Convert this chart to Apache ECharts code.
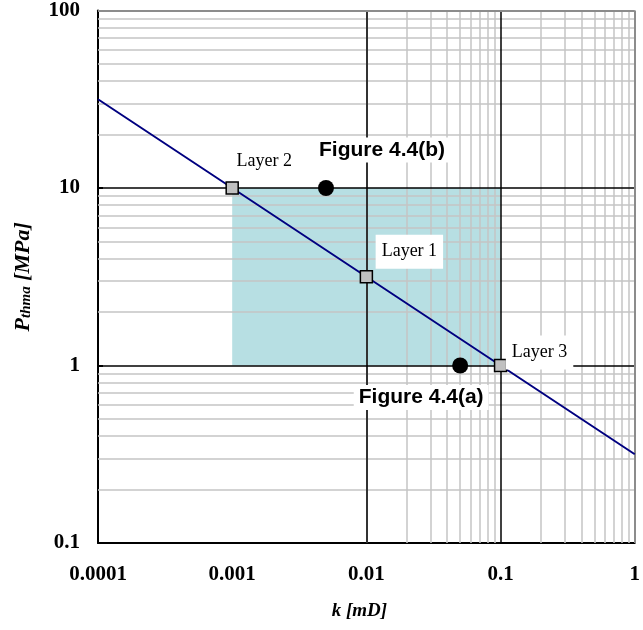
<!DOCTYPE html>
<html>
<head>
<meta charset="utf-8">
<script src="https://cdn.jsdelivr.net/npm/echarts@6/dist/echarts.min.js"></script>
<style>
html,body{margin:0;padding:0;background:#fff;}
#chart{width:643px;height:630px;}
</style>
</head>
<body>
<div id="chart"></div>
<script>
// ---- data ----
const xTicks = [0.0001, 0.001, 0.01, 0.1, 1];
const xTickLabels = ['0.0001', '0.001', '0.01', '0.1', '1'];
const yTicks = [0.1, 1, 10, 100];
const yTickLabels = ['0.1', '1', '10', '100'];

const lineK = [0.0001, 0.001, 0.01, 0.1, 1];
const lineP = [31.62, 10, 3.162, 1, 0.3162];

const layerNames = ['Layer 2', 'Layer 1', 'Layer 3'];
const layerK = [0.001, 0.01, 0.1];
const layerP = [10, 3.162, 1];

const figNames = ['Figure 4.4(b)', 'Figure 4.4(a)'];
const figK = [0.005, 0.05];
const figP = [10, 1];

const regionK = [0.001, 0.1];
const regionP = [1, 10];

const minorMult = [2, 3, 4, 5, 6, 7, 8, 9];

// ---- layout constants (label offsets in px) ----
const layerOffsets = [[32, -27], [43, -25], [39, -13]];
const figOffsets = [[56, -38], [-39, 32]];

// ---- grid lines built from tick decades ----
function minorValues(ticks) {
  const out = [];
  for (let i = 0; i < ticks.length - 1; i++) {
    minorMult.forEach(m => out.push(+(ticks[i] * m).toPrecision(6)));
  }
  return out;
}
const xMinor = minorValues(xTicks);
const yMinor = minorValues(yTicks);
const xMajorInner = xTicks.slice(1, -1);
const yMajorInner = yTicks.slice(1, -1);

function labelFor(v, ticks, labels) {
  let best = 0, bd = Infinity;
  ticks.forEach((t, i) => {
    const d = Math.abs(Math.log10(t) - Math.log10(v));
    if (d < bd) { bd = d; best = i; }
  });
  return bd < 0.01 ? labels[best] : '';
}

const serif = "'Liberation Serif','Times New Roman',serif";
const sans = "'Liberation Sans',Arial,sans-serif";
const minorStyle = {color: '#c4c4c4', width: 1.5, type: 'solid'};
const majorStyle = {color: '#000', width: 1.5, type: 'solid'};
const borderStyle = {color: '#8c8c8c', width: 2, type: 'solid'};

const chart = echarts.init(document.getElementById('chart'), null, {renderer: 'canvas'});

const option = {
  animation: false,
  backgroundColor: '#fff',
  grid: {left: 98, right: 5, top: 10, bottom: 87, containLabel: false},
  xAxis: {
    type: 'log', logBase: 10,
    min: xTicks[0], max: xTicks[xTicks.length - 1],
    splitNumber: 4,
    name: 'k [mD]',
    nameLocation: 'middle',
    nameGap: 59,
    nameTextStyle: {fontFamily: serif, fontSize: 19, fontWeight: 'bold', fontStyle: 'italic', color: '#000', padding: [0, 14, 0, 0]},
    axisLine: {show: true, lineStyle: {color: '#000', width: 2}},
    axisTick: {show: false},
    splitLine: {show: false},
    minorTick: {show: false},
    axisLabel: {
      margin: 21, color: '#000', fontFamily: serif, fontSize: 21, fontWeight: 'bold',
      showMinLabel: true, showMaxLabel: true,
      formatter: v => labelFor(v, xTicks, xTickLabels)
    }
  },
  yAxis: {
    type: 'log', logBase: 10,
    min: yTicks[0], max: yTicks[yTicks.length - 1],
    splitNumber: 3,
    name: '{p|P}{s|thma}{p| [MPa]}',
    nameLocation: 'middle',
    nameRotate: 90,
    nameGap: 64,
    nameTextStyle: {
      rich: {
        p: {fontFamily: serif, fontSize: 22, fontWeight: 'bold', fontStyle: 'italic', color: '#000', lineHeight: 28, verticalAlign: 'bottom'},
        s: {fontFamily: serif, fontSize: 15, fontWeight: 'bold', fontStyle: 'italic', color: '#000', lineHeight: 22, verticalAlign: 'bottom'}
      }
    },
    axisLine: {show: true, lineStyle: {color: '#000', width: 2}},
    axisTick: {show: true, inside: true, length: 5, lineStyle: {color: '#000', width: 2}},
    splitLine: {show: false},
    axisLabel: {
      margin: 18, color: '#000', fontFamily: serif, fontSize: 21, fontWeight: 'bold',
      showMinLabel: true, showMaxLabel: true,
      formatter: v => labelFor(v, yTicks, yTickLabels)
    }
  },
  series: [
    {
      name: 'region', type: 'line', data: [], silent: true, z: 1,
      markArea: {
        silent: true, z: 1,
        itemStyle: {color: '#b7dfe3'},
        data: [[{coord: [regionK[0], regionP[0]]}, {coord: [regionK[1], regionP[1]]}]]
      }
    },
    {
      name: 'minorGrid', type: 'line', data: [], silent: true, z: 2,
      markLine: {
        silent: true, z: 2, symbol: ['none', 'none'], label: {show: false},
        lineStyle: minorStyle, animation: false,
        data: xMinor.map(v => ({xAxis: v})).concat(yMinor.map(v => ({yAxis: v})))
      }
    },
    {
      name: 'majorGrid', type: 'line', data: [], silent: true, z: 3,
      markLine: {
        silent: true, z: 3, symbol: ['none', 'none'], label: {show: false},
        lineStyle: majorStyle, animation: false,
        data: xMajorInner.map(v => ({xAxis: v})).concat(yMajorInner.map(v => ({yAxis: v})))
          .concat([{xAxis: xTicks[xTicks.length - 1], lineStyle: borderStyle},
                   {yAxis: yTicks[yTicks.length - 1], lineStyle: borderStyle}])
      }
    },
    {
      name: 'trend', type: 'line', z: 10,
      data: lineK.map((k, i) => [k, lineP[i]]),
      showSymbol: false, symbol: 'none',
      lineStyle: {color: '#000080', width: 2},
      itemStyle: {color: '#000080'}
    },
    {
      name: 'layers', type: 'scatter', z: 11,
      data: layerK.map((k, i) => ({
        value: [k, layerP[i]], name: layerNames[i],
        label: {offset: layerOffsets[i]}
      })),
      symbol: 'rect', symbolSize: 12,
      itemStyle: {color: '#c0c0c0', borderColor: '#000', borderWidth: 1.5, opacity: 1},
      label: {
        show: true, position: 'inside', formatter: p => p.name,
        fontFamily: serif, fontSize: 18, color: '#000',
        backgroundColor: '#fff', padding: [8, 6],
        align: 'center', verticalAlign: 'middle'
      }
    },
    {
      name: 'figures', type: 'scatter', z: 11,
      data: figK.map((k, i) => ({
        value: [k, figP[i]], name: figNames[i],
        label: {offset: figOffsets[i]}
      })),
      symbol: 'circle', symbolSize: 16,
      itemStyle: {color: '#000', opacity: 1},
      label: {
        show: true, position: 'inside', formatter: p => p.name,
        fontFamily: sans, fontSize: 21, fontWeight: 'bold', color: '#000',
        backgroundColor: '#fff', padding: [2, 5],
        align: 'center', verticalAlign: 'middle'
      }
    }
  ]
};
chart.setOption(option);
</script>
</body>
</html>
